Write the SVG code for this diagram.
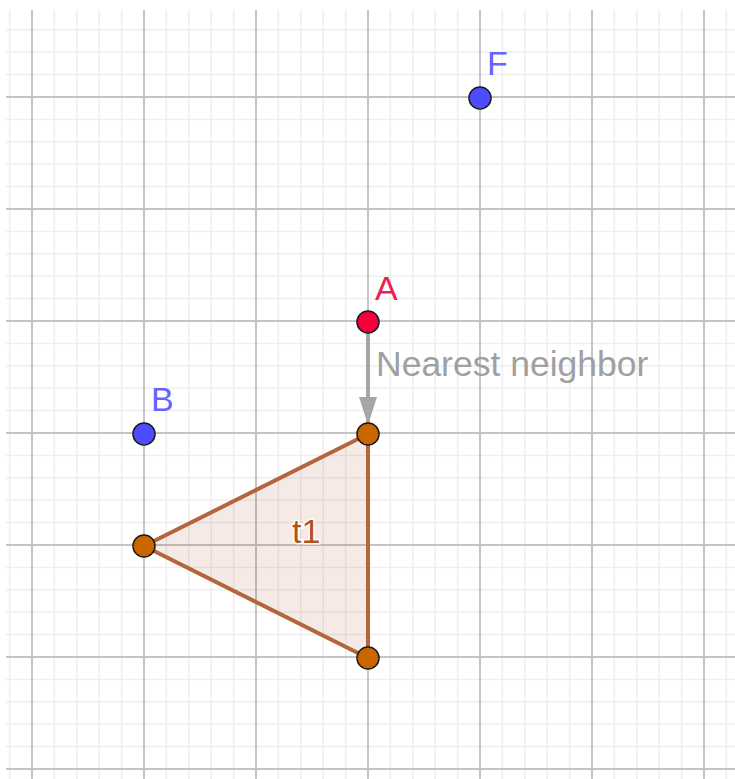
<svg xmlns="http://www.w3.org/2000/svg" width="735" height="779" viewBox="0 0 735 779">
<style>
.minor{stroke:#eeeeee;stroke-width:1.5;fill:none}
.major{stroke:#c4c4c4;stroke-width:2;fill:none}
.lbl{font-family:"Liberation Sans",Arial,sans-serif;font-size:34px}
.pt{stroke:#1a1a1a;stroke-width:1.5}
.blue{fill:#4d4dff}
.blueTxt{fill:#6464ff}
.orange{fill:#cc6600}
</style>
<defs>
<clipPath id="gc"><rect x="6" y="10" width="729" height="769"/></clipPath>
<marker id="ah" viewBox="0 0 28 18" refX="27" refY="9" markerWidth="28" markerHeight="18" markerUnits="userSpaceOnUse" orient="auto">
<path d="M0,0 L28,9 L0,18 z" fill="#a6a6a6"/>
</marker>
</defs>
<rect width="735" height="779" fill="#ffffff"/>
<g id="grid" clip-path="url(#gc)">
<path class="minor" d="M9.6,0V779M54.4,0V779M76.8,0V779M99.2,0V779M121.6,0V779M166.4,0V779M188.8,0V779M211.2,0V779M233.6,0V779M278.4,0V779M300.8,0V779M323.2,0V779M345.6,0V779M390.4,0V779M412.8,0V779M435.2,0V779M457.6,0V779M502.4,0V779M524.8,0V779M547.2,0V779M569.6,0V779M614.4,0V779M636.8,0V779M659.2,0V779M681.6,0V779M726.4,0V779"/>
<path class="minor" d="M0,7.4H735M0,29.8H735M0,52.2H735M0,74.6H735M0,119.4H735M0,141.8H735M0,164.2H735M0,186.6H735M0,231.4H735M0,253.8H735M0,276.2H735M0,298.6H735M0,343.4H735M0,365.8H735M0,388.2H735M0,410.6H735M0,455.4H735M0,477.8H735M0,500.2H735M0,522.6H735M0,567.4H735M0,589.8H735M0,612.2H735M0,634.6H735M0,679.4H735M0,701.8H735M0,724.2H735M0,746.6H735"/>
<path class="major" d="M32,0V779M144,0V779M256,0V779M368,0V779M480,0V779M592,0V779M704,0V779"/>
<path class="major" d="M0,97H735M0,209H735M0,321H735M0,433H735M0,545H735M0,657H735M0,769H735"/>
</g>
<g id="t1">
<polygon points="368,434 144,546 368,658" fill="#993300" fill-opacity="0.1" stroke="#b5653c" stroke-width="4" stroke-linejoin="round"/>
<text class="lbl" x="292" y="543" fill="#b0521e" stroke="#ffffff" stroke-width="3" paint-order="stroke">t1</text>
</g>
<g id="connectors">
<line x1="368" y1="322" x2="368" y2="424" stroke="#a6a6a6" stroke-width="4" marker-end="url(#ah)"/>
<text class="lbl" x="376" y="376" fill="#a0a0a0" style="font-size:35.5px">Nearest neighbor</text>
</g>
<g id="F">
<circle class="pt blue" cx="480" cy="98" r="11"/>
<text class="lbl blueTxt" x="487" y="75">F</text>
</g>
<g id="A">
<circle class="pt" cx="368" cy="322" r="11" fill="#f5003a"/>
<text class="lbl" x="375" y="300" fill="#f01e50">A</text>
</g>
<g id="B">
<circle class="pt blue" cx="144" cy="434" r="11"/>
<text class="lbl blueTxt" x="151" y="411">B</text>
</g>
<g id="V1"><circle class="pt orange" cx="368" cy="434" r="11"/></g>
<g id="V2"><circle class="pt orange" cx="144" cy="546" r="11"/></g>
<g id="V3"><circle class="pt orange" cx="368" cy="658" r="11"/></g>
</svg>
